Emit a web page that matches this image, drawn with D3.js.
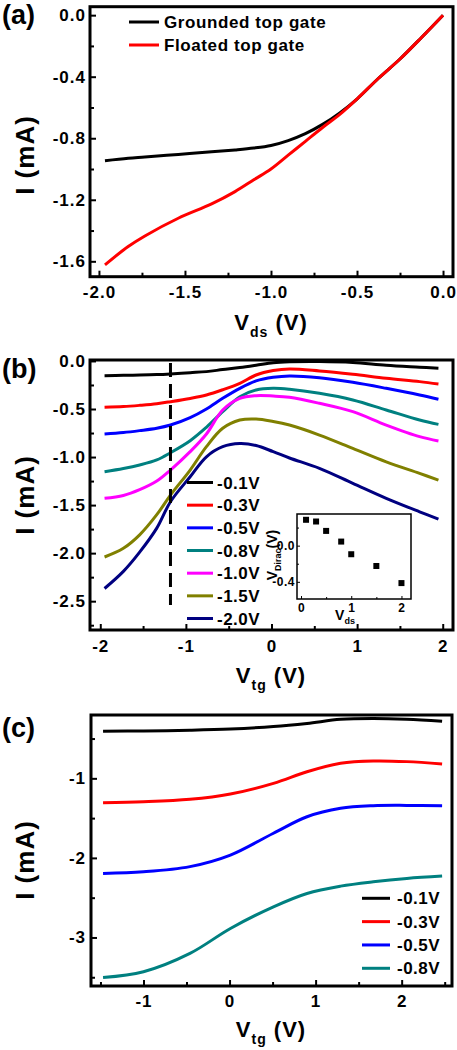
<!DOCTYPE html>
<html><head><meta charset="utf-8">
<script src="https://cdn.jsdelivr.net/npm/d3@7"></script>
<style>
html,body{margin:0;padding:0;background:#fff;}
svg{display:block;}
text{font-family:"Liberation Sans",Arial,sans-serif;font-weight:bold;fill:#000;}
</style></head><body>
<script>
// ---------- Panel (a) data ----------
const aVds      = [-1.965,-1.83,-1.733,-1.539,-1.345,-1.209,-1.1,-1.0,-0.9,-0.8,-0.7,-0.6,-0.5,-0.375,-0.25,-0.125,0];
const aGrounded = [-0.946,-0.93,-0.922,-0.905,-0.888,-0.876,-0.864,-0.847,-0.815,-0.77,-0.71,-0.635,-0.545,-0.41,-0.285,-0.145,0];
const aFloated  = [-1.623,-1.504,-1.435,-1.32,-1.227,-1.147,-1.07,-1.0,-0.91,-0.82,-0.73,-0.645,-0.545,-0.41,-0.285,-0.145,0];
const aNames    = ["Grounded top gate","Floated top gate"];
const aXTicks   = [-2,-1.5,-1,-0.5,0];
const aXMinor   = [-1.75,-1.25,-0.75,-0.25];
const aYTicks   = [0,-0.4,-0.8,-1.2,-1.6];
const aYMinor   = [-0.2,-0.6,-1.0,-1.4];

// ---------- Panel (b) data ----------
const bVtg  = [-1.95,-1.73,-1.54,-1.34,-1.18,-0.95,-0.76,-0.57,-0.37,-0.18,0.02,0.21,0.56,0.95,1.34,1.73,1.95];
const bI01  = [-0.153,-0.150,-0.147,-0.142,-0.135,-0.122,-0.111,-0.09,-0.069,-0.045,-0.018,-0.008,-0.005,-0.015,-0.045,-0.065,-0.076];
const bI03  = [-0.483,-0.475,-0.462,-0.445,-0.424,-0.39,-0.354,-0.30,-0.233,-0.146,-0.10,-0.083,-0.104,-0.139,-0.181,-0.215,-0.24];
const bI05  = [-0.76,-0.745,-0.725,-0.70,-0.667,-0.59,-0.50,-0.389,-0.285,-0.208,-0.17,-0.156,-0.174,-0.222,-0.285,-0.354,-0.399];
const bI08  = [-1.153,-1.12,-1.083,-1.03,-0.955,-0.83,-0.69,-0.528,-0.372,-0.302,-0.285,-0.295,-0.337,-0.406,-0.51,-0.615,-0.66];
const bI10  = [-1.43,-1.40,-1.34,-1.25,-1.135,-0.944,-0.76,-0.51,-0.389,-0.361,-0.365,-0.378,-0.441,-0.528,-0.667,-0.788,-0.833];
const bI15  = [-2.04,-1.95,-1.81,-1.60,-1.396,-1.135,-0.892,-0.701,-0.615,-0.604,-0.63,-0.667,-0.771,-0.91,-1.05,-1.17,-1.24];
const bI20  = [-2.368,-2.19,-1.99,-1.74,-1.465,-1.205,-0.997,-0.892,-0.86,-0.88,-0.944,-1.01,-1.118,-1.274,-1.43,-1.57,-1.646];
const bNames = ["-0.1V","-0.3V","-0.5V","-0.8V","-1.0V","-1.5V","-2.0V"];
const bDash  = -1.18;
const bXTicks = [-2,-1,0,1,2];
const bXMinor = [-1.5,-0.5,0.5,1.5];
const bYTicks = [0,-0.5,-1,-1.5,-2,-2.5];
const bYMinor = [-0.25,-0.75,-1.25,-1.75,-2.25,-2.75];

// ---------- Inset data ----------
const insVds    = [0.1,0.3,0.5,0.8,1.0,1.5,2.0];
const insVDirac = [0.286,0.267,0.163,0.045,-0.095,-0.225,-0.414];
const insXTicks = [0,1,2];
const insXMinor = [0.5,1.5];
const insYTicks = [0,-0.4];
const insYMinor = [0.2,-0.2];

// ---------- Panel (c) data ----------
const cVtg = [-1.47,-1.0,-0.46,0.01,0.51,0.9,1.29,1.67,2.06,2.47];
const cI01 = [-0.408,-0.405,-0.395,-0.38,-0.35,-0.31,-0.258,-0.248,-0.258,-0.283];
const cI03 = [-1.307,-1.295,-1.264,-1.197,-1.063,-0.917,-0.811,-0.782,-0.79,-0.82];
const cI05 = [-2.195,-2.175,-2.11,-1.965,-1.69,-1.483,-1.377,-1.344,-1.34,-1.344];
const cI08 = [-3.503,-3.43,-3.2,-2.887,-2.615,-2.447,-2.355,-2.30,-2.258,-2.229];
const cNames = ["-0.1V","-0.3V","-0.5V","-0.8V"];
const cXTicks = [-1,0,1,2];
const cXMinor = [-1.5,-0.5,0.5,1.5,2.5];
const cYTicks = [-1,-2,-3];
const cYMinor = [-0.5,-1.5,-2.5,-3.5];

const colorsB = ["#000000","#ff0000","#0000ff","#008080","#ff00ff","#808000","#000080"];

// ---------- drawing ----------
const svg = d3.select("body").append("svg").attr("width",457).attr("height",1050);
svg.append("rect").attr("width",457).attr("height",1050).attr("fill","#fff");

function axes(g, x, y, o){
  const [y0] = y.range(); const [x0] = x.range();
  g.append("g").attr("transform",`translate(0,${y0})`)
    .call(d3.axisBottom(x).tickValues(o.xt).tickSizeInner(-o.maj).tickSizeOuter(0).tickPadding(o.xpad).tickFormat(o.xf));
  g.append("g").attr("transform",`translate(0,${y0})`)
    .call(d3.axisBottom(x).tickValues(o.xm).tickSizeInner(-o.min).tickSizeOuter(0).tickFormat(""));
  g.append("g").attr("transform",`translate(${x0},0)`)
    .call(d3.axisLeft(y).tickValues(o.yt).tickSizeInner(-o.maj).tickSizeOuter(0).tickPadding(o.ypad).tickFormat(o.yf));
  g.append("g").attr("transform",`translate(${x0},0)`)
    .call(d3.axisLeft(y).tickValues(o.ym).tickSizeInner(-o.min).tickSizeOuter(0).tickFormat(""));
  g.selectAll(".domain").remove();
  g.selectAll(".tick line").attr("stroke-width",o.tw);
  g.selectAll(".tick text").style("font-size",o.fs+"px").style("letter-spacing",o.ls+"px");
  const [x1,x2] = x.range(); const [ya,yb] = y.range();
  g.append("rect").attr("x",x1).attr("y",yb).attr("width",x2-x1).attr("height",ya-yb)
    .attr("fill","none").attr("stroke","#000").attr("stroke-width",o.fw);
}

function title(x, y, main, sub, rest, fs, sfs, rot){
  const t = svg.append("text").attr("text-anchor","middle").style("font-size",fs+"px")
    .attr("transform",`translate(${x},${y})` + (rot?" rotate(-90)":""));
  t.append("tspan").text(main);
  if(sub){ t.append("tspan").attr("dy",fs*0.3).style("font-size",sfs+"px").text(sub);
           t.append("tspan").attr("dy",-fs*0.3).text(rest); }
  return t;
}

const lineGen = (x,y) => d3.line().x(d=>x(d[0])).y(d=>y(d[1])).curve(d3.curveCatmullRom.alpha(0.5));
const fmt1 = d => d.toFixed(1);
const fmt0 = d => String(d);

// ===== Panel (a) =====
{
  const x = d3.scaleLinear().domain([-2.052,0.058]).range([90,453]);
  const y = d3.scaleLinear().domain([-1.70,0.055]).range([276.7,6.7]);
  const g = svg.append("g");
  const series = [aGrounded, aFloated];
  const cols = ["#000000","#ff0000"];
  series.forEach((s,i)=>{
    g.append("path").attr("d", lineGen(x,y)(aVds.map((v,j)=>[v,s[j]])))
     .attr("fill","none").attr("stroke",cols[i]).attr("stroke-width",3);
  });
  axes(g,x,y,{xt:aXTicks,xm:aXMinor,yt:aYTicks,ym:aYMinor,maj:6,min:4,xpad:9,ypad:4,xf:fmt1,yf:fmt1,tw:2,fs:17,ls:1,fw:3});
  aNames.forEach((n,i)=>{
    const yy = 22 + i*23;
    g.append("line").attr("x1",129).attr("x2",159).attr("y1",yy).attr("y2",yy).attr("stroke",cols[i]).attr("stroke-width",3);
    g.append("text").attr("x",164).attr("y",yy+6).style("font-size","17px").style("letter-spacing","0.6px").text(n);
  });
  title(271,330,"V","ds"," (V)",22,14,false).style("letter-spacing","1px");
  title(34,155,"I (mA)",null,null,26,0,true).style("letter-spacing","1px");
  svg.append("text").attr("x",2).attr("y",24).style("font-size","27px").text("(a)");
}

// ===== Panel (b) =====
{
  const x = d3.scaleLinear().domain([-2.12,2.12]).range([90,453]);
  const y = d3.scaleLinear().domain([-2.8,0.01]).range([630,360]);
  const g = svg.append("g");
  const series = [bI01,bI03,bI05,bI08,bI10,bI15,bI20];
  series.forEach((s,i)=>{
    g.append("path").attr("d", lineGen(x,y)(bVtg.map((v,j)=>[v,s[j]])))
     .attr("fill","none").attr("stroke",colorsB[i]).attr("stroke-width",3);
  });
  g.append("line").attr("x1",x(bDash)).attr("x2",x(bDash)).attr("y1",y(-0.02)).attr("y2",y(-2.54))
   .attr("stroke","#000").attr("stroke-width",3).attr("stroke-dasharray","14,7");
  axes(g,x,y,{xt:bXTicks,xm:bXMinor,yt:bYTicks,ym:bYMinor,maj:6,min:4,xpad:10,ypad:4,xf:fmt0,yf:fmt1,tw:2,fs:17,ls:1,fw:3});
  bNames.forEach((n,i)=>{
    const yy = 482.5 + i*22.67;
    g.append("line").attr("x1",187).attr("x2",213).attr("y1",yy).attr("y2",yy).attr("stroke",colorsB[i]).attr("stroke-width",3);
    g.append("text").attr("x",217).attr("y",yy+6).style("font-size","17px").style("letter-spacing","0.5px").text(n);
  });
  title(271,683,"V","tg"," (V)",22,14,false).style("letter-spacing","1px");
  title(34,495,"I (mA)",null,null,26,0,true).style("letter-spacing","1px");
  svg.append("text").attr("x",2).attr("y",378).style("font-size","27px").text("(b)");

  // inset
  const xi = d3.scaleLinear().domain([-0.08,2.19]).range([297,411]);
  const yi = d3.scaleLinear().domain([-0.59,0.35]).range([599,514]);
  const gi = svg.append("g");
  gi.append("rect").attr("x",297).attr("y",514).attr("width",114).attr("height",85).attr("fill","#fff");
  axes(gi,xi,yi,{xt:insXTicks,xm:insXMinor,yt:insYTicks,ym:insYMinor,maj:3,min:2,xpad:4,ypad:2,xf:fmt0,yf:fmt1,tw:1,fs:12,ls:0.5,fw:1.5});
  gi.selectAll("rect.pt").data(insVds.map((v,j)=>[v,insVDirac[j]])).enter().append("rect").attr("class","pt")
    .attr("x",d=>xi(d[0])-3).attr("y",d=>yi(d[1])-3).attr("width",6).attr("height",6).attr("fill","#000");
  title(345,620,"V","ds","",14,9,false);
  title(277,555,"V","Dirac","(V)",14,9,true);
}

// ===== Panel (c) =====
{
  const x = d3.scaleLinear().domain([-1.61,2.585]).range([91,452]);
  const y = d3.scaleLinear().domain([-3.61,-0.204]).range([986,715]);
  const g = svg.append("g");
  const series = [cI01,cI03,cI05,cI08];
  series.forEach((s,i)=>{
    g.append("path").attr("d", lineGen(x,y)(cVtg.map((v,j)=>[v,s[j]])))
     .attr("fill","none").attr("stroke",colorsB[i]).attr("stroke-width",3);
  });
  axes(g,x,y,{xt:cXTicks,xm:cXMinor,yt:cYTicks,ym:cYMinor,maj:6,min:4,xpad:9,ypad:5,xf:fmt0,yf:fmt0,tw:2,fs:17,ls:1,fw:3});
  cNames.forEach((n,i)=>{
    const yy = 898.3 + i*23.33;
    g.append("line").attr("x1",362).attr("x2",390).attr("y1",yy).attr("y2",yy).attr("stroke",colorsB[i]).attr("stroke-width",3);
    g.append("text").attr("x",397).attr("y",yy+6).style("font-size","17px").style("letter-spacing","0.5px").text(n);
  });
  title(271,1037,"V","tg"," (V)",22,14,false).style("letter-spacing","1px");
  title(34,860,"I (mA)",null,null,26,0,true).style("letter-spacing","1px");
  svg.append("text").attr("x",2).attr("y",737).style("font-size","27px").text("(c)");
}
</script></body></html>
